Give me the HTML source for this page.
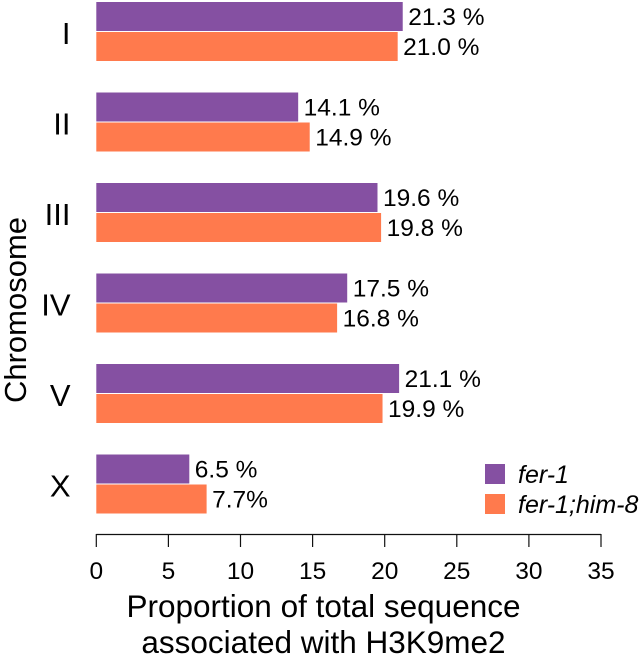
<!DOCTYPE html>
<html>
<head>
<meta charset="utf-8">
<style>
html,body{margin:0;padding:0;background:#fff;}
svg{display:block;font-family:"Liberation Sans",sans-serif;fill:#000;}
</style>
</head>
<body>
<svg id="chart" width="641" height="657" viewBox="0 0 641 657" xmlns="http://www.w3.org/2000/svg">
  <line x1="96.3" x2="601" y1="534.5" y2="534.5" stroke="#111" stroke-width="1.2"/>
  <g id="bars"></g>
  <g id="ticks"></g>
  <text transform="translate(26,310) rotate(-90)" text-anchor="middle" font-size="31">Chromosome</text>
  <text x="323.5" y="617" text-anchor="middle" font-size="31.5">Proportion of total sequence</text>
  <text x="323.5" y="653" text-anchor="middle" font-size="31.5">associated with H3K9me2</text>
  <rect x="485" y="464" width="20" height="20" fill="#8550a2"/>
  <text x="518" y="483" font-size="25" font-style="italic">fer-1</text>
  <rect x="485" y="494" width="20" height="20" fill="#ff7a4d"/>
  <text x="518" y="513" font-size="25" font-style="italic">fer-1;him-8</text>
</svg>
<script>
var categories = ["I", "II", "III", "IV", "V", "X"];
var fer1Values = [21.25, 14.0, 19.5, 17.4, 21.0, 6.45];
var fer1Him8Values = [20.9, 14.8, 19.75, 16.7, 19.85, 7.65];
var fer1Labels = ["21.3 %", "14.1 %", "19.6 %", "17.5 %", "21.1 %", "6.5 %"];
var fer1Him8Labels = ["21.0 %", "14.9 %", "19.8 %", "16.8 %", "19.9 %", "7.7%"];
var tickValues = [0, 5, 10, 15, 20, 25, 30, 35];

var NS = "http://www.w3.org/2000/svg";
function xScale(v) { return 96.3 + v * (601 - 96.3) / 35; }
function groupTop(i) { return 2 + i * 90.5; }
var barsGroup = document.getElementById("bars");
var ticksGroup = document.getElementById("ticks");

function addBar(i, v, top, fill, name) {
  var r = document.createElementNS(NS, "rect");
  r.setAttribute("x", xScale(0));
  r.setAttribute("y", top);
  r.setAttribute("width", xScale(v) - xScale(0));
  r.setAttribute("height", 29);
  r.setAttribute("fill", fill);
  
  
  barsGroup.appendChild(r);
}
function addValueLabel(v, top, label, name) {
  var t = document.createElementNS(NS, "text");
  t.setAttribute("x", xScale(v) + 5.5);
  t.setAttribute("y", top + 23);
  t.setAttribute("font-size", "24.5");
  t.textContent = label;
  
  
  barsGroup.appendChild(t);
}
categories.forEach(function (c, i) {
  var top = groupTop(i);
  addBar(i, fer1Values[i], top, "#8550a2", "bar-fer-1-" + c);
  addBar(i, fer1Him8Values[i], top + 30, "#ff7a4d", "bar-fer-1-him-8-" + c);
  addValueLabel(fer1Values[i], top, fer1Labels[i], "value-label-fer-1-" + c);
  addValueLabel(fer1Him8Values[i], top + 30, fer1Him8Labels[i], "value-label-fer-1-him-8-" + c);
  var t = document.createElementNS(NS, "text");
  t.setAttribute("x", 70.5);
  t.setAttribute("y", top + 42);
  t.setAttribute("text-anchor", "end");
  t.setAttribute("font-size", "31");
  t.textContent = c;
  
  
  barsGroup.appendChild(t);
});
tickValues.forEach(function (v) {
  var l = document.createElementNS(NS, "line");
  l.setAttribute("x1", xScale(v));
  l.setAttribute("x2", xScale(v));
  l.setAttribute("y1", 534);
  l.setAttribute("y2", 547);
  l.setAttribute("stroke", "#111");
  l.setAttribute("stroke-width", "1.2");
  
  
  ticksGroup.appendChild(l);
  var t = document.createElementNS(NS, "text");
  t.setAttribute("x", xScale(v));
  t.setAttribute("y", 579);
  t.setAttribute("text-anchor", "middle");
  t.setAttribute("font-size", "24.5");
  t.textContent = v;
  
  
  ticksGroup.appendChild(t);
});
</script>
</body>
</html>
